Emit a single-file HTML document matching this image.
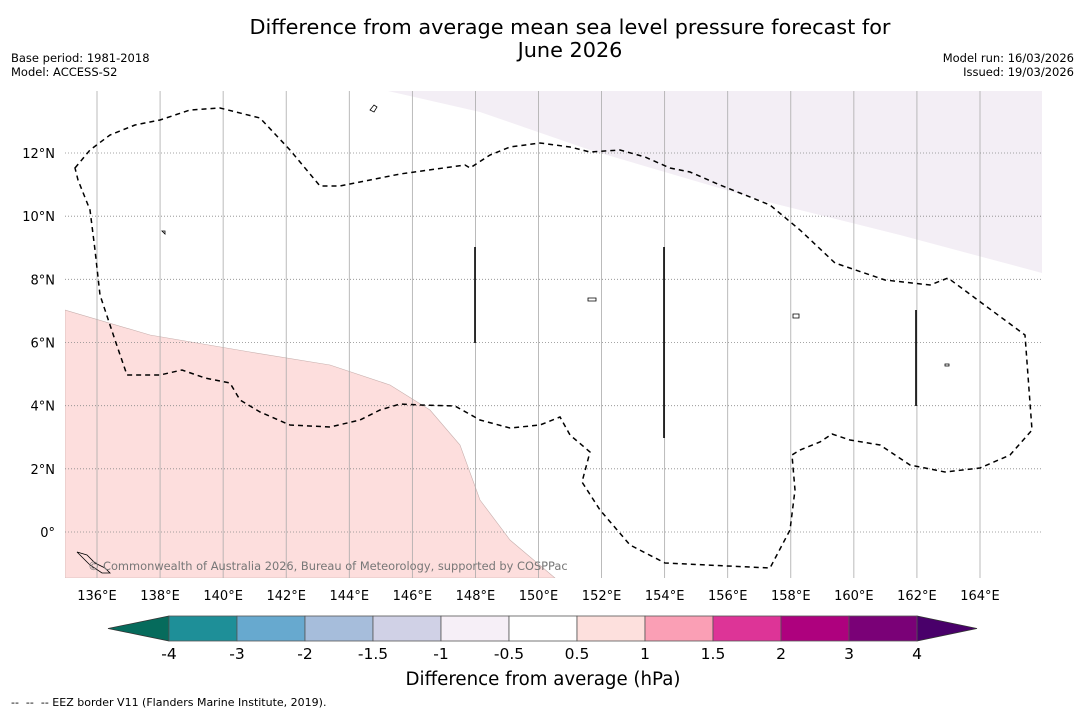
<!DOCTYPE html>
<html><head><meta charset="utf-8"><style>
body{margin:0;background:#fff;font-family:"DejaVu Sans","Liberation Sans",sans-serif}
svg text{font-family:"DejaVu Sans","Liberation Sans",sans-serif}
</style></head><body>
<svg width="1085" height="713" viewBox="0 0 1085 713">
<text x="570" y="34" font-size="20.8" text-anchor="middle">Difference from average mean sea level pressure forecast for</text>
<text x="570" y="57" font-size="20.8" text-anchor="middle">June 2026</text>
<text x="11" y="62" font-size="11.5">Base period: 1981-2018</text>
<text x="11" y="76" font-size="11.5">Model: ACCESS-S2</text>
<text x="1074" y="62" font-size="11.5" text-anchor="end">Model run: 16/03/2026</text>
<text x="1074" y="76" font-size="11.5" text-anchor="end">Issued: 19/03/2026</text>
<defs><clipPath id="mc"><rect x="65" y="91" width="977" height="487"/></clipPath></defs>
<g clip-path="url(#mc)">
<polygon fill="#f3eef5" points="388,91 1042,91 1042,273 900,235 760,200 590,150 480,112"/>
<polygon fill="#fddedd" stroke="#c8b0ae" stroke-width="0.6" points="65,310 150,335 250,352 330,365 390,385 430,410 460,445 480,500 510,540 555,578 65,578"/>
<g id="grid"></g>
<path fill="none" stroke="#000" stroke-width="1.5" stroke-dasharray="5,4" d="M75,168 L90,150 110,135 135,125 160,120 190,110 220,108 260,118 290,150 320,186 340,186 400,174 465,165 470,168 490,155 510,147 540,143 570,147 590,152 620,150 645,157 670,168 690,172 720,185 770,205 800,230 835,263 885,280 930,285 948,278 975,298 1025,335 1032,430 1010,455 980,468 945,472 910,465 880,445 850,440 832,434 820,442 800,450 792,455 795,490 790,530 770,568 665,563 630,545 600,510 582,482 590,452 570,435 560,417 540,425 510,428 480,420 455,406 420,405 400,404 380,410 360,420 330,427 290,425 260,412 240,400 230,383 205,378 182,370 160,375 127,375 115,340 100,295 95,250 90,210 78,180 Z"/>
<g stroke="#000" stroke-width="1.6">
<line x1="475" y1="247" x2="475" y2="343"/><line x1="664" y1="247" x2="664" y2="438"/><line x1="916" y1="310" x2="916" y2="406"/>
</g>
<g fill="none" stroke="#000" stroke-width="0.8">
<path d="M370,110 l4,-5 3,2 -3,5z"/><path d="M588,298 l8,0 0,3 -8,0z"/><path d="M793,314 l6,0 0,4 -6,0z"/><path d="M945,364 l4,0 0,2 -4,0z"/><path d="M77,552 l10,3 8,8 10,5 5,5 -8,0 -12,-8z"/><path d="M162,231 l3,0 0,3z"/>
</g>
<text x="88" y="570" font-size="11.4" fill="#777">© Commonwealth of Australia 2026, Bureau of Meteorology, supported by COSPPac</text>
</g>
<g id="axes"></g>
<g id="cbar"></g>
<text x="543" y="685" font-size="18.2" text-anchor="middle">Difference from average (hPa)</text>
<text x="11" y="706" font-size="11" xml:space="preserve">--  --  -- EEZ border V11 (Flanders Marine Institute, 2019).</text>
</svg>
<script>
const lonTicks=[136,138,140,142,144,146,148,150,152,154,156,158,160,162,164];
const latTicks=[0,2,4,6,8,10,12];
const cbBounds=["-4","-3","-2","-1.5","-1","-0.5","0.5","1","1.5","2","3","4"];
const cbColors=["#1e8f98","#67a9cf","#a6bddb","#d0d1e6","#f6eff7","#ffffff","#fde0dd","#fa9fb5","#dd3497","#ae017e","#7a0177"];
const cbExtend=["#066b5c","#49006a"];
const NS="http://www.w3.org/2000/svg";
function X(lon){return 97+(lon-136)*(883/28);}
function Y(lat){return 532-lat*(379/12);}
function mk(t,a,p,txt){const e=document.createElementNS(NS,t);for(const k in a)e.setAttribute(k,a[k]);if(txt!==undefined)e.textContent=txt;p.appendChild(e);return e;}
const g=document.getElementById('grid'),ax=document.getElementById('axes'),cb=document.getElementById('cbar');
lonTicks.forEach(l=>{
 const ln=mk('line',{x1:X(l),x2:X(l),y1:91,y2:578,stroke:'#aaa','stroke-width':0.8},g);
 
 
 const t=mk('text',{x:X(l),y:600,'font-size':13,'text-anchor':'middle'},ax,l+'°E');
 
 
});
latTicks.forEach(l=>{
 const ln=mk('line',{x1:65,x2:1042,y1:Y(l),y2:Y(l),stroke:'#888','stroke-width':0.8,'stroke-dasharray':'1,2'},g);
 
 
 const t=mk('text',{x:55,y:Y(l)+5,'font-size':13,'text-anchor':'end'},ax,l===0?'0°':l+'°N');
 
 
});
const x0=169,w=68,y0=616,h=25;
const lt=mk('polygon',{points:`${x0},${y0} ${x0},${y0+h} 108,${y0+h/2}`,fill:cbExtend[0],stroke:'#333','stroke-width':0.8},cb);


const xe=x0+w*cbColors.length;
const rt=mk('polygon',{points:`${xe},${y0} ${xe},${y0+h} 977,${y0+h/2}`,fill:cbExtend[1],stroke:'#333','stroke-width':0.8},cb);


cbColors.forEach((c,i)=>{
 const r=mk('rect',{x:x0+i*w,y:y0,width:w,height:h,fill:c,stroke:'#555','stroke-width':0.8},cb);
 
 
});
cbBounds.forEach((b,i)=>{
 const t=mk('text',{x:x0+i*w,y:659,'font-size':15.5,'text-anchor':'middle'},cb,b);
 
 
});
</script>
</body></html>
